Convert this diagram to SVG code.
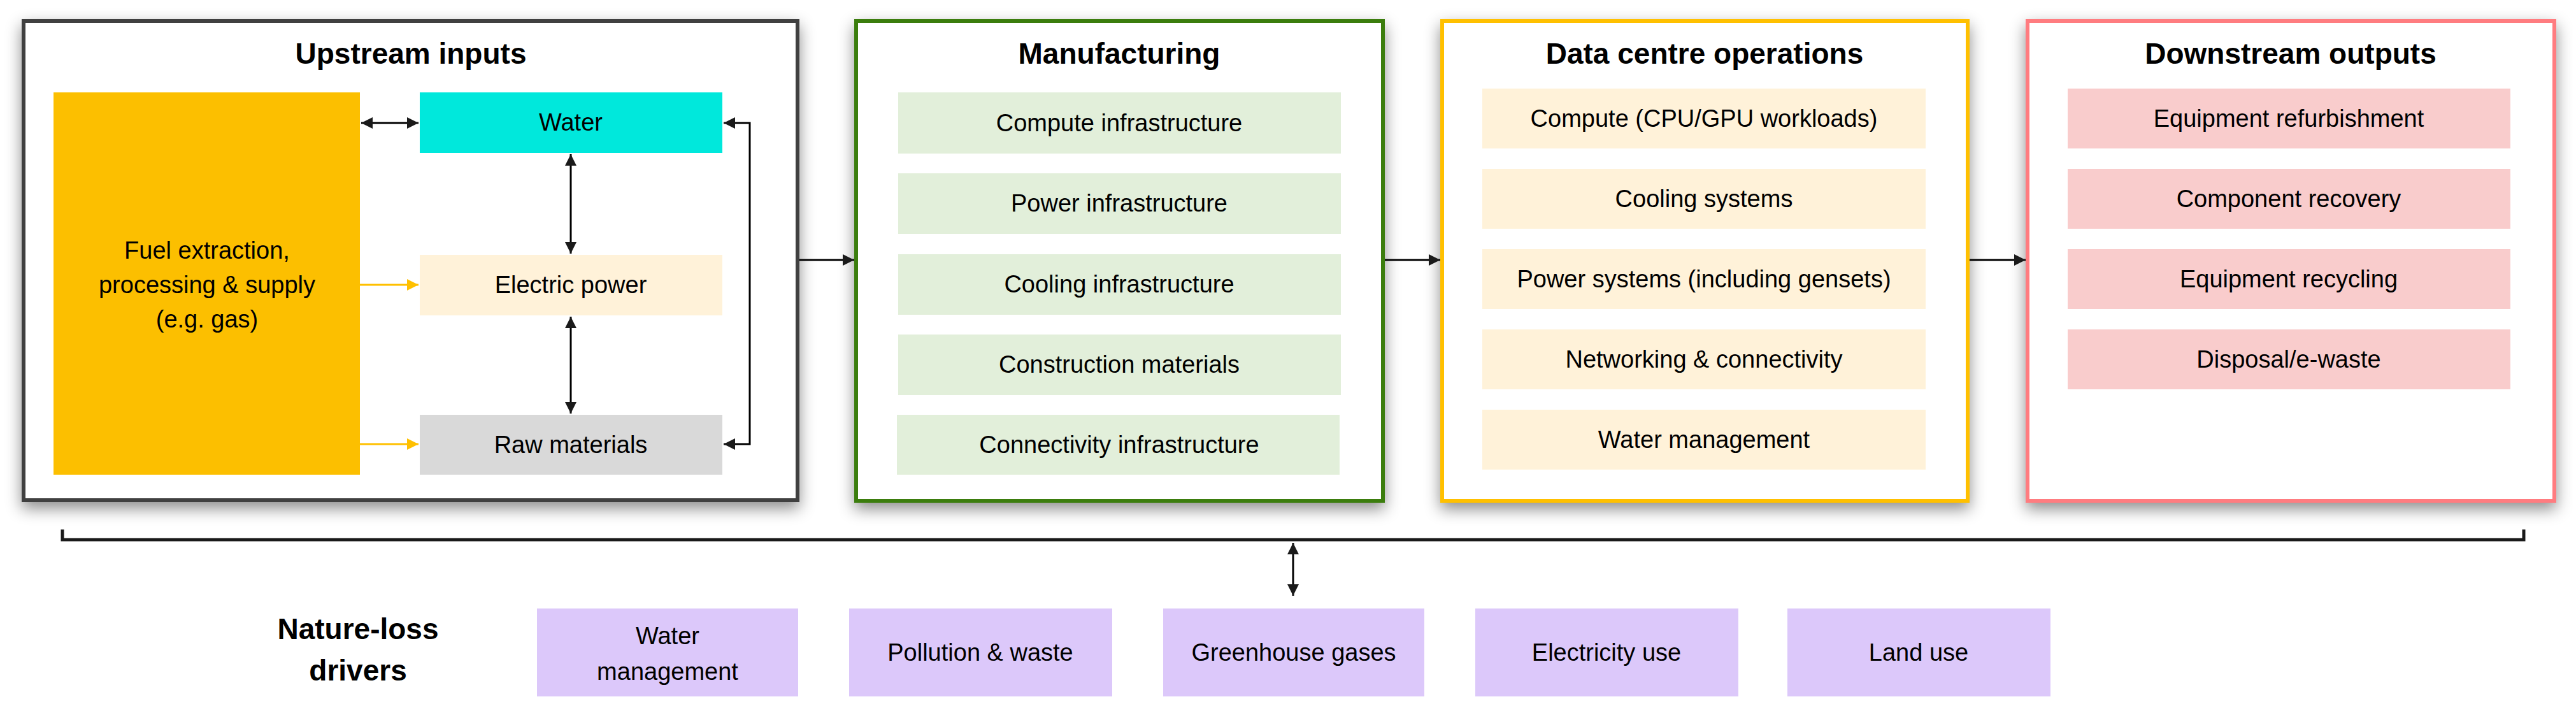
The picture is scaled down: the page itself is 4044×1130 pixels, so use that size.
<svg xmlns="http://www.w3.org/2000/svg" width="4044" height="1130" viewBox="0 0 4044 1130">
<defs>
<style>
text{font-family:"Liberation Sans",Arial,sans-serif;fill:#000;text-anchor:middle;dominant-baseline:central}
.t{font-size:46px;font-weight:bold}
.i{font-size:38px}
.c{stroke:#000;stroke-width:3;fill:none}
</style>
<filter id="sh" x="-5%" y="-5%" width="110%" height="115%"><feDropShadow dx="0" dy="10" stdDeviation="12" flood-color="#000" flood-opacity="0.45"/></filter>
<marker id="a" viewBox="0 0 10 10" refX="10" refY="5" markerWidth="6" markerHeight="6" orient="auto-start-reverse" markerUnits="strokeWidth"><path d="M0,0L10,5L0,10z" fill="#1a1a1a"/></marker>
<marker id="y" viewBox="0 0 10 10" refX="10" refY="5" markerWidth="6" markerHeight="6" orient="auto" markerUnits="strokeWidth"><path d="M0,0L10,5L0,10z" fill="#ffc000"/></marker>
</defs>
<rect width="4044" height="1130" fill="#fff"/>
<g id="upstream">
<rect x="37" y="33" width="1215" height="752" fill="#fff" stroke="#404040" stroke-width="6" filter="url(#sh)"/>
<text class="t" x="645" y="84">Upstream inputs</text>
</g>
<g id="fuel"><rect x="84" y="145" width="481" height="600" fill="#fcbf00"/>
<text class="i" x="325" y="393">Fuel extraction,</text><text class="i" x="325" y="447">processing &amp; supply</text><text class="i" x="325" y="501">(e.g. gas)</text></g>
<g id="water"><rect x="659" y="145" width="475" height="95" fill="#00e8dc"/><text class="i" x="896" y="192">Water</text></g>
<g id="electric"><rect x="659" y="400" width="475" height="95" fill="#fff2d9"/><text class="i" x="896" y="447">Electric power</text></g>
<g id="raw"><rect x="659" y="651" width="475" height="94" fill="#d9d9d9"/><text class="i" x="896" y="698">Raw materials</text></g>
<g id="manufacturing">
<rect x="1344" y="33" width="827" height="753" fill="#fff" stroke="#3a7d0f" stroke-width="6" filter="url(#sh)"/>
<text class="t" x="1757" y="84">Manufacturing</text>
<g fill="#e2efda"><rect x="1410" y="145" width="695" height="96"/><rect x="1410" y="272" width="695" height="95"/><rect x="1410" y="399" width="695" height="95"/><rect x="1410" y="525" width="695" height="95"/><rect x="1408" y="651" width="695" height="94"/></g>
<text class="i" x="1757" y="193">Compute infrastructure</text>
<text class="i" x="1757" y="319">Power infrastructure</text>
<text class="i" x="1757" y="446">Cooling infrastructure</text>
<text class="i" x="1757" y="572">Construction materials</text>
<text class="i" x="1757" y="698">Connectivity infrastructure</text>
</g>
<g id="datacentre">
<rect x="2264" y="33" width="825" height="753" fill="#fff" stroke="#ffc000" stroke-width="6" filter="url(#sh)"/>
<text class="t" x="2676" y="84">Data centre operations</text>
<g fill="#fff2d9"><rect x="2327" y="139" width="696" height="94"/><rect x="2327" y="265" width="696" height="94"/><rect x="2327" y="391" width="696" height="94"/><rect x="2327" y="517" width="696" height="94"/><rect x="2327" y="643" width="696" height="94"/></g>
<text class="i" x="2675" y="186">Compute (CPU/GPU workloads)</text>
<text class="i" x="2675" y="312">Cooling systems</text>
<text class="i" x="2675" y="438">Power systems (including gensets)</text>
<text class="i" x="2675" y="564">Networking &amp; connectivity</text>
<text class="i" x="2675" y="690">Water management</text>
</g>
<g id="downstream">
<rect x="3183" y="33" width="827" height="753" fill="#fff" stroke="#ff7c80" stroke-width="6" filter="url(#sh)"/>
<text class="t" x="3596" y="84">Downstream outputs</text>
<g fill="#f9cccc"><rect x="3246" y="139" width="695" height="94"/><rect x="3246" y="265" width="695" height="94"/><rect x="3246" y="391" width="695" height="94"/><rect x="3246" y="517" width="695" height="94"/></g>
<text class="i" x="3593" y="186">Equipment refurbishment</text>
<text class="i" x="3593" y="312">Component recovery</text>
<text class="i" x="3593" y="438">Equipment recycling</text>
<text class="i" x="3593" y="564">Disposal/e-waste</text>
</g>
<g id="drivers">
<text class="t" x="562" y="987">Nature-loss</text><text class="t" x="562" y="1052">drivers</text>
<g fill="#dcc8fa"><rect x="843" y="955" width="410" height="138"/><rect x="1333" y="955" width="413" height="138"/><rect x="1826" y="955" width="410" height="138"/><rect x="2316" y="955" width="413" height="138"/><rect x="2806" y="955" width="413" height="138"/></g>
<text class="i" x="1048" y="998">Water</text><text class="i" x="1048" y="1054">management</text>
<text class="i" x="1539" y="1024">Pollution &amp; waste</text>
<text class="i" x="2031" y="1024">Greenhouse gases</text>
<text class="i" x="2522" y="1024">Electricity use</text>
<text class="i" x="3012" y="1024">Land use</text>
</g>
<g id="connectors">
<line class="c" x1="567" y1="193" x2="657" y2="193" marker-start="url(#a)" marker-end="url(#a)"/>
<line class="c" x1="896" y1="242" x2="896" y2="398" marker-start="url(#a)" marker-end="url(#a)"/>
<line class="c" x1="896" y1="497" x2="896" y2="649" marker-start="url(#a)" marker-end="url(#a)"/>
<line x1="565" y1="447" x2="657" y2="447" stroke="#ffc000" stroke-width="3" marker-end="url(#y)"/>
<line x1="565" y1="697" x2="657" y2="697" stroke="#ffc000" stroke-width="3" marker-end="url(#y)"/>
<polyline class="c" points="1136,193 1177,193 1177,697 1136,697" marker-start="url(#a)" marker-end="url(#a)"/>
<line class="c" x1="1255" y1="408" x2="1341" y2="408" marker-end="url(#a)"/>
<line class="c" x1="2174" y1="408" x2="2261" y2="408" marker-end="url(#a)"/>
<line class="c" x1="3092" y1="408" x2="3180" y2="408" marker-end="url(#a)"/>
<polyline points="98,831 98,847 3962,847 3962,831" fill="none" stroke="#1a1a1a" stroke-width="5"/>
<line class="c" x1="2030" y1="852" x2="2030" y2="935" marker-start="url(#a)" marker-end="url(#a)"/>
</g>
</svg>
